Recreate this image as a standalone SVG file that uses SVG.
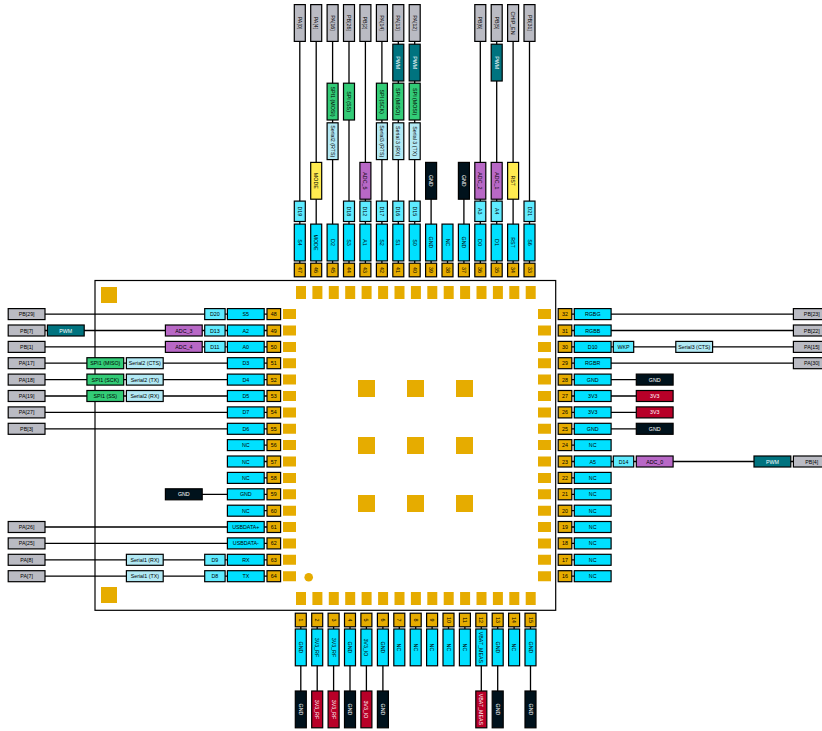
<svg xmlns="http://www.w3.org/2000/svg" width="822" height="731" viewBox="0 0 822 731">
<style>
text{font-family:"Liberation Sans",Arial,sans-serif;font-size:5.3px;text-anchor:middle;dominant-baseline:central;fill:#000}
use{stroke:#000;stroke-width:1.2}
.pin{fill:#E6AC00}.fn{fill:#00E0FF}.d{fill:#5FEBFF}.ser{fill:#B2E9F4}.spi{fill:#33CC77}.pwm{fill:#00737F}.adc{fill:#B868C6}.gnd{fill:#00121C}.pwr{fill:#B80028}.port{fill:#BABBC3}.sys{fill:#FFEB50}
.pwm+text,.gnd+text,.pwr+text{fill:#fff}
#conn path{fill:none;stroke:#000;stroke-width:1.3}
</style>
<defs>
<rect id="W" x="-18.4" y="-5.5" width="36.8" height="11"/>
<rect id="D" x="-10.2" y="-5.5" width="20.4" height="11"/>
<rect id="P" x="-6.8" y="-5.5" width="13.6" height="11"/>
</defs>
<g id="board">
<rect x="95" y="280.5" width="460.7" height="329.8" fill="#fff" stroke="#000" stroke-width="1.2"/>
<path fill="#E6AC00" d="M101 287h16v16h-16zM101 587h16v16h-16zM358 380h17v17h-17zM407 380h17v17h-17zM456 380h17v17h-17zM358 437h17v17h-17zM407 437h17v17h-17zM456 437h17v17h-17zM358 495h17v17h-17zM407 495h17v17h-17zM456 495h17v17h-17z"/>
<path fill="#E6AC00" d="M283 309.1h13v10h-13zM283 325.5h13v10h-13zM283 341.9h13v10h-13zM283 358.2h13v10h-13zM283 374.6h13v10h-13zM283 391h13v10h-13zM283 407.4h13v10h-13zM283 423.8h13v10h-13zM283 440.1h13v10h-13zM283 456.5h13v10h-13zM283 472.9h13v10h-13zM283 489.3h13v10h-13zM283 505.7h13v10h-13zM283 522h13v10h-13zM283 538.4h13v10h-13zM283 554.8h13v10h-13zM283 571.2h13v10h-13z"/>
<path fill="#E6AC00" d="M538 309.1h13v10h-13zM538 325.5h13v10h-13zM538 341.9h13v10h-13zM538 358.2h13v10h-13zM538 374.6h13v10h-13zM538 391h13v10h-13zM538 407.4h13v10h-13zM538 423.8h13v10h-13zM538 440.1h13v10h-13zM538 456.5h13v10h-13zM538 472.9h13v10h-13zM538 489.3h13v10h-13zM538 505.7h13v10h-13zM538 522h13v10h-13zM538 538.4h13v10h-13zM538 554.8h13v10h-13zM538 571.2h13v10h-13z"/>
<path fill="#E6AC00" d="M296 286h10v13h-10zM312.4 286h10v13h-10zM328.8 286h10v13h-10zM345.2 286h10v13h-10zM361.6 286h10v13h-10zM378.1 286h10v13h-10zM394.5 286h10v13h-10zM410.9 286h10v13h-10zM427.3 286h10v13h-10zM443.7 286h10v13h-10zM460.1 286h10v13h-10zM476.5 286h10v13h-10zM492.9 286h10v13h-10zM509.3 286h10v13h-10zM525.7 286h10v13h-10z"/>
<path fill="#E6AC00" d="M296 592h10v13h-10zM312.4 592h10v13h-10zM328.8 592h10v13h-10zM345.2 592h10v13h-10zM361.6 592h10v13h-10zM378.1 592h10v13h-10zM394.5 592h10v13h-10zM410.9 592h10v13h-10zM427.3 592h10v13h-10zM443.7 592h10v13h-10zM460.1 592h10v13h-10zM476.5 592h10v13h-10zM492.9 592h10v13h-10zM509.3 592h10v13h-10zM525.7 592h10v13h-10z"/>
<circle cx="308.7" cy="577.3" r="4.3" fill="#E6AC00"/>
</g>
<g id="conn">
<path d="M45 314.1H267M45 330.5H267M45 346.9H267M45 363.2H267M45 379.6H267M45 396H267M45 412.4H267M45 428.8H267M264 445.1H267M264 461.5H267M264 477.9H267M202 494.3H267M264 510.7H267M45 527H267M45 543.4H267M45 559.8H267M45 576.2H267"/>
<path d="M571 314.1H794M571 330.5H794M571 346.9H794M571 363.2H794M571 379.6H636M571 396H636M571 412.4H636M571 428.8H636M571 445.1H575M571 461.5H794M571 477.9H575M571 494.3H575M571 510.7H575M571 527H575M571 543.4H575M571 559.8H575M571 576.2H575"/>
<path d="M299.8 41V263M316.2 41V263M332.6 41V263M349 41V263M365.4 41V263M381.9 41V263M398.3 41V263M414.7 41V263M431.1 199V263M447.5 261V263M463.9 199V263M480.3 41V263M496.7 41V263M513.1 41V263M529.5 41V263"/>
<path d="M300.8 627V691M317.2 627V691M333.6 627V691M350 627V691M366.4 627V691M382.9 627V691M399.3 627V629M415.7 627V629M432.1 627V629M448.5 627V629M464.9 627V629M481.3 627V691M497.7 627V691M514.1 627V629M530.5 627V691"/>
</g>
<g id="left">
<g id="pin48" transform="translate(273.8 314.1)"><use href="#P" class="pin"/><text>48</text></g>
<g id="pin49" transform="translate(273.8 330.5)"><use href="#P" class="pin"/><text>49</text></g>
<g id="pin50" transform="translate(273.8 346.9)"><use href="#P" class="pin"/><text>50</text></g>
<g id="pin51" transform="translate(273.8 363.2)"><use href="#P" class="pin"/><text>51</text></g>
<g id="pin52" transform="translate(273.8 379.6)"><use href="#P" class="pin"/><text>52</text></g>
<g id="pin53" transform="translate(273.8 396)"><use href="#P" class="pin"/><text>53</text></g>
<g id="pin54" transform="translate(273.8 412.4)"><use href="#P" class="pin"/><text>54</text></g>
<g id="pin55" transform="translate(273.8 428.8)"><use href="#P" class="pin"/><text>55</text></g>
<g id="pin56" transform="translate(273.8 445.1)"><use href="#P" class="pin"/><text>56</text></g>
<g id="pin57" transform="translate(273.8 461.5)"><use href="#P" class="pin"/><text>57</text></g>
<g id="pin58" transform="translate(273.8 477.9)"><use href="#P" class="pin"/><text>58</text></g>
<g id="pin59" transform="translate(273.8 494.3)"><use href="#P" class="pin"/><text>59</text></g>
<g id="pin60" transform="translate(273.8 510.7)"><use href="#P" class="pin"/><text>60</text></g>
<g id="pin61" transform="translate(273.8 527)"><use href="#P" class="pin"/><text>61</text></g>
<g id="pin62" transform="translate(273.8 543.4)"><use href="#P" class="pin"/><text>62</text></g>
<g id="pin63" transform="translate(273.8 559.8)"><use href="#P" class="pin"/><text>63</text></g>
<g id="pin64" transform="translate(273.8 576.2)"><use href="#P" class="pin"/><text>64</text></g>
<g id="fn48" transform="translate(245.8 314.1)"><use href="#W" class="fn"/><text>S5</text></g>
<g id="fn49" transform="translate(245.8 330.5)"><use href="#W" class="fn"/><text>A2</text></g>
<g id="fn50" transform="translate(245.8 346.9)"><use href="#W" class="fn"/><text>A0</text></g>
<g id="fn51" transform="translate(245.8 363.2)"><use href="#W" class="fn"/><text>D3</text></g>
<g id="fn52" transform="translate(245.8 379.6)"><use href="#W" class="fn"/><text>D4</text></g>
<g id="fn53" transform="translate(245.8 396)"><use href="#W" class="fn"/><text>D5</text></g>
<g id="fn54" transform="translate(245.8 412.4)"><use href="#W" class="fn"/><text>D7</text></g>
<g id="fn55" transform="translate(245.8 428.8)"><use href="#W" class="fn"/><text>D6</text></g>
<g id="fn56" transform="translate(245.8 445.1)"><use href="#W" class="fn"/><text>NC</text></g>
<g id="fn57" transform="translate(245.8 461.5)"><use href="#W" class="fn"/><text>NC</text></g>
<g id="fn58" transform="translate(245.8 477.9)"><use href="#W" class="fn"/><text>NC</text></g>
<g id="fn59" transform="translate(245.8 494.3)"><use href="#W" class="fn"/><text>GND</text></g>
<g id="fn60" transform="translate(245.8 510.7)"><use href="#W" class="fn"/><text>NC</text></g>
<g id="fn61" transform="translate(245.8 527)"><use href="#W" class="fn"/><text>USBDATA+</text></g>
<g id="fn62" transform="translate(245.8 543.4)"><use href="#W" class="fn"/><text>USBDATA-</text></g>
<g id="fn63" transform="translate(245.8 559.8)"><use href="#W" class="fn"/><text>RX</text></g>
<g id="fn64" transform="translate(245.8 576.2)"><use href="#W" class="fn"/><text>TX</text></g>
<g id="d48" transform="translate(214.9 314.1)"><use href="#D" class="d"/><text>D20</text></g>
<g id="d49" transform="translate(214.9 330.5)"><use href="#D" class="d"/><text>D13</text></g>
<g id="d50" transform="translate(214.9 346.9)"><use href="#D" class="d"/><text>D11</text></g>
<g id="d63" transform="translate(214.9 559.8)"><use href="#D" class="d"/><text>D9</text></g>
<g id="d64" transform="translate(214.9 576.2)"><use href="#D" class="d"/><text>D8</text></g>
<g id="adc49" transform="translate(183.8 330.5)"><use href="#W" class="adc"/><text>ADC_3</text></g>
<g id="adc50" transform="translate(183.8 346.9)"><use href="#W" class="adc"/><text>ADC_4</text></g>
<g id="gnd59" transform="translate(183.8 494.3)"><use href="#W" class="gnd"/><text>GND</text></g>
<g id="ser51" transform="translate(144.8 363.2)"><use href="#W" class="ser"/><text>Serial2 (CTS)</text></g>
<g id="ser52" transform="translate(144.8 379.6)"><use href="#W" class="ser"/><text>Serial2 (TX)</text></g>
<g id="ser53" transform="translate(144.8 396)"><use href="#W" class="ser"/><text>Serial2 (RX)</text></g>
<g id="ser63" transform="translate(144.8 559.8)"><use href="#W" class="ser"/><text>Serial1 (RX)</text></g>
<g id="ser64" transform="translate(144.8 576.2)"><use href="#W" class="ser"/><text>Serial1 (TX)</text></g>
<g id="spi51" transform="translate(105.3 363.2)"><use href="#W" class="spi"/><text>SPI1 (MISO)</text></g>
<g id="spi52" transform="translate(105.3 379.6)"><use href="#W" class="spi"/><text>SPI1 (SCK)</text></g>
<g id="spi53" transform="translate(105.3 396)"><use href="#W" class="spi"/><text>SPI1 (SS)</text></g>
<g id="pwm49" transform="translate(65.8 330.5)"><use href="#W" class="pwm"/><text>PWM</text></g>
<g id="port48" transform="translate(26.6 314.1)"><use href="#W" class="port"/><text>PB[29]</text></g>
<g id="port49" transform="translate(26.6 330.5)"><use href="#W" class="port"/><text>PB[7]</text></g>
<g id="port50" transform="translate(26.6 346.9)"><use href="#W" class="port"/><text>PB[1]</text></g>
<g id="port51" transform="translate(26.6 363.2)"><use href="#W" class="port"/><text>PA[17]</text></g>
<g id="port52" transform="translate(26.6 379.6)"><use href="#W" class="port"/><text>PA[18]</text></g>
<g id="port53" transform="translate(26.6 396)"><use href="#W" class="port"/><text>PA[19]</text></g>
<g id="port54" transform="translate(26.6 412.4)"><use href="#W" class="port"/><text>PA[27]</text></g>
<g id="port55" transform="translate(26.6 428.8)"><use href="#W" class="port"/><text>PB[3]</text></g>
<g id="port61" transform="translate(26.6 527)"><use href="#W" class="port"/><text>PA[26]</text></g>
<g id="port62" transform="translate(26.6 543.4)"><use href="#W" class="port"/><text>PA[25]</text></g>
<g id="port63" transform="translate(26.6 559.8)"><use href="#W" class="port"/><text>PA[8]</text></g>
<g id="port64" transform="translate(26.6 576.2)"><use href="#W" class="port"/><text>PA[7]</text></g>
</g>
<g id="right">
<g id="pin32" transform="translate(565 314.1)"><use href="#P" class="pin"/><text>32</text></g>
<g id="pin31" transform="translate(565 330.5)"><use href="#P" class="pin"/><text>31</text></g>
<g id="pin30" transform="translate(565 346.9)"><use href="#P" class="pin"/><text>30</text></g>
<g id="pin29" transform="translate(565 363.2)"><use href="#P" class="pin"/><text>29</text></g>
<g id="pin28" transform="translate(565 379.6)"><use href="#P" class="pin"/><text>28</text></g>
<g id="pin27" transform="translate(565 396)"><use href="#P" class="pin"/><text>27</text></g>
<g id="pin26" transform="translate(565 412.4)"><use href="#P" class="pin"/><text>26</text></g>
<g id="pin25" transform="translate(565 428.8)"><use href="#P" class="pin"/><text>25</text></g>
<g id="pin24" transform="translate(565 445.1)"><use href="#P" class="pin"/><text>24</text></g>
<g id="pin23" transform="translate(565 461.5)"><use href="#P" class="pin"/><text>23</text></g>
<g id="pin22" transform="translate(565 477.9)"><use href="#P" class="pin"/><text>22</text></g>
<g id="pin21" transform="translate(565 494.3)"><use href="#P" class="pin"/><text>21</text></g>
<g id="pin20" transform="translate(565 510.7)"><use href="#P" class="pin"/><text>20</text></g>
<g id="pin19" transform="translate(565 527)"><use href="#P" class="pin"/><text>19</text></g>
<g id="pin18" transform="translate(565 543.4)"><use href="#P" class="pin"/><text>18</text></g>
<g id="pin17" transform="translate(565 559.8)"><use href="#P" class="pin"/><text>17</text></g>
<g id="pin16" transform="translate(565 576.2)"><use href="#P" class="pin"/><text>16</text></g>
<g id="fn32" transform="translate(592.7 314.1)"><use href="#W" class="fn"/><text>RGBG</text></g>
<g id="fn31" transform="translate(592.7 330.5)"><use href="#W" class="fn"/><text>RGBB</text></g>
<g id="fn30" transform="translate(592.7 346.9)"><use href="#W" class="fn"/><text>D10</text></g>
<g id="fn29" transform="translate(592.7 363.2)"><use href="#W" class="fn"/><text>RGBR</text></g>
<g id="fn28" transform="translate(592.7 379.6)"><use href="#W" class="fn"/><text>GND</text></g>
<g id="fn27" transform="translate(592.7 396)"><use href="#W" class="fn"/><text>3V3</text></g>
<g id="fn26" transform="translate(592.7 412.4)"><use href="#W" class="fn"/><text>3V3</text></g>
<g id="fn25" transform="translate(592.7 428.8)"><use href="#W" class="fn"/><text>GND</text></g>
<g id="fn24" transform="translate(592.7 445.1)"><use href="#W" class="fn"/><text>NC</text></g>
<g id="fn23" transform="translate(592.7 461.5)"><use href="#W" class="fn"/><text>A5</text></g>
<g id="fn22" transform="translate(592.7 477.9)"><use href="#W" class="fn"/><text>NC</text></g>
<g id="fn21" transform="translate(592.7 494.3)"><use href="#W" class="fn"/><text>NC</text></g>
<g id="fn20" transform="translate(592.7 510.7)"><use href="#W" class="fn"/><text>NC</text></g>
<g id="fn19" transform="translate(592.7 527)"><use href="#W" class="fn"/><text>NC</text></g>
<g id="fn18" transform="translate(592.7 543.4)"><use href="#W" class="fn"/><text>NC</text></g>
<g id="fn17" transform="translate(592.7 559.8)"><use href="#W" class="fn"/><text>NC</text></g>
<g id="fn16" transform="translate(592.7 576.2)"><use href="#W" class="fn"/><text>NC</text></g>
<g id="d30" transform="translate(623.5 346.9)"><use href="#D" class="d"/><text>WKP</text></g>
<g id="d23" transform="translate(623.5 461.5)"><use href="#D" class="d"/><text>D14</text></g>
<g id="gnd28" transform="translate(654.7 379.6)"><use href="#W" class="gnd"/><text>GND</text></g>
<g id="pwr27" transform="translate(654.7 396)"><use href="#W" class="pwr"/><text>3V3</text></g>
<g id="pwr26" transform="translate(654.7 412.4)"><use href="#W" class="pwr"/><text>3V3</text></g>
<g id="gnd25" transform="translate(654.7 428.8)"><use href="#W" class="gnd"/><text>GND</text></g>
<g id="adc23" transform="translate(654.7 461.5)"><use href="#W" class="adc"/><text>ADC_0</text></g>
<g id="ser30" transform="translate(694.2 346.9)"><use href="#W" class="ser"/><text>Serial3 (CTS)</text></g>
<g id="pwm23" transform="translate(772.4 461.5)"><use href="#W" class="pwm"/><text>PWM</text></g>
<g id="port32" transform="translate(811.8 314.1)"><use href="#W" class="port"/><text>PB[23]</text></g>
<g id="port31" transform="translate(811.8 330.5)"><use href="#W" class="port"/><text>PB[22]</text></g>
<g id="port30" transform="translate(811.8 346.9)"><use href="#W" class="port"/><text>PA[15]</text></g>
<g id="port29" transform="translate(811.8 363.2)"><use href="#W" class="port"/><text>PA[30]</text></g>
<g id="port23" transform="translate(811.8 461.5)"><use href="#W" class="port"/><text>PB[4]</text></g>
</g>
<g id="top">
<g id="pin47" transform="translate(299.8 270) rotate(90)"><use href="#P" class="pin"/><text>47</text></g>
<g id="pin46" transform="translate(316.2 270) rotate(90)"><use href="#P" class="pin"/><text>46</text></g>
<g id="pin45" transform="translate(332.6 270) rotate(90)"><use href="#P" class="pin"/><text>45</text></g>
<g id="pin44" transform="translate(349 270) rotate(90)"><use href="#P" class="pin"/><text>44</text></g>
<g id="pin43" transform="translate(365.4 270) rotate(90)"><use href="#P" class="pin"/><text>43</text></g>
<g id="pin42" transform="translate(381.9 270) rotate(90)"><use href="#P" class="pin"/><text>42</text></g>
<g id="pin41" transform="translate(398.3 270) rotate(90)"><use href="#P" class="pin"/><text>41</text></g>
<g id="pin40" transform="translate(414.7 270) rotate(90)"><use href="#P" class="pin"/><text>40</text></g>
<g id="pin39" transform="translate(431.1 270) rotate(90)"><use href="#P" class="pin"/><text>39</text></g>
<g id="pin38" transform="translate(447.5 270) rotate(90)"><use href="#P" class="pin"/><text>38</text></g>
<g id="pin37" transform="translate(463.9 270) rotate(90)"><use href="#P" class="pin"/><text>37</text></g>
<g id="pin36" transform="translate(480.3 270) rotate(90)"><use href="#P" class="pin"/><text>36</text></g>
<g id="pin35" transform="translate(496.7 270) rotate(90)"><use href="#P" class="pin"/><text>35</text></g>
<g id="pin34" transform="translate(513.1 270) rotate(90)"><use href="#P" class="pin"/><text>34</text></g>
<g id="pin33" transform="translate(529.5 270) rotate(90)"><use href="#P" class="pin"/><text>33</text></g>
<g id="fn47" transform="translate(299.8 242.5) rotate(90)"><use href="#W" class="fn"/><text>S4</text></g>
<g id="fn46" transform="translate(316.2 242.5) rotate(90)"><use href="#W" class="fn"/><text>MODE</text></g>
<g id="fn45" transform="translate(332.6 242.5) rotate(90)"><use href="#W" class="fn"/><text>D2</text></g>
<g id="fn44" transform="translate(349 242.5) rotate(90)"><use href="#W" class="fn"/><text>S3</text></g>
<g id="fn43" transform="translate(365.4 242.5) rotate(90)"><use href="#W" class="fn"/><text>A1</text></g>
<g id="fn42" transform="translate(381.9 242.5) rotate(90)"><use href="#W" class="fn"/><text>S2</text></g>
<g id="fn41" transform="translate(398.3 242.5) rotate(90)"><use href="#W" class="fn"/><text>S1</text></g>
<g id="fn40" transform="translate(414.7 242.5) rotate(90)"><use href="#W" class="fn"/><text>S0</text></g>
<g id="fn39" transform="translate(431.1 242.5) rotate(90)"><use href="#W" class="fn"/><text>GND</text></g>
<g id="fn38" transform="translate(447.5 242.5) rotate(90)"><use href="#W" class="fn"/><text>NC</text></g>
<g id="fn37" transform="translate(463.9 242.5) rotate(90)"><use href="#W" class="fn"/><text>GND</text></g>
<g id="fn36" transform="translate(480.3 242.5) rotate(90)"><use href="#W" class="fn"/><text>D0</text></g>
<g id="fn35" transform="translate(496.7 242.5) rotate(90)"><use href="#W" class="fn"/><text>D1</text></g>
<g id="fn34" transform="translate(513.1 242.5) rotate(90)"><use href="#W" class="fn"/><text>RST</text></g>
<g id="fn33" transform="translate(529.5 242.5) rotate(90)"><use href="#W" class="fn"/><text>S6</text></g>
<g id="d47" transform="translate(299.8 211.3) rotate(90)"><use href="#D" class="d"/><text>D19</text></g>
<g id="d44" transform="translate(349 211.3) rotate(90)"><use href="#D" class="d"/><text>D18</text></g>
<g id="d43" transform="translate(365.4 211.3) rotate(90)"><use href="#D" class="d"/><text>D12</text></g>
<g id="d42" transform="translate(381.9 211.3) rotate(90)"><use href="#D" class="d"/><text>D17</text></g>
<g id="d41" transform="translate(398.3 211.3) rotate(90)"><use href="#D" class="d"/><text>D16</text></g>
<g id="d40" transform="translate(414.7 211.3) rotate(90)"><use href="#D" class="d"/><text>D15</text></g>
<g id="d36" transform="translate(480.3 211.3) rotate(90)"><use href="#D" class="d"/><text>A3</text></g>
<g id="d35" transform="translate(496.7 211.3) rotate(90)"><use href="#D" class="d"/><text>A4</text></g>
<g id="d33" transform="translate(529.5 211.3) rotate(90)"><use href="#D" class="d"/><text>D21</text></g>
<g id="sys46" transform="translate(316.2 180.8) rotate(90)"><use href="#W" class="sys"/><text>MODE</text></g>
<g id="adc43" transform="translate(365.4 180.8) rotate(90)"><use href="#W" class="adc"/><text>ADC_5</text></g>
<g id="gnd39" transform="translate(431.1 180.8) rotate(90)"><use href="#W" class="gnd"/><text>GND</text></g>
<g id="gnd37" transform="translate(463.9 180.8) rotate(90)"><use href="#W" class="gnd"/><text>GND</text></g>
<g id="adc36" transform="translate(480.3 180.8) rotate(90)"><use href="#W" class="adc"/><text>ADC_2</text></g>
<g id="adc35" transform="translate(496.7 180.8) rotate(90)"><use href="#W" class="adc"/><text>ADC_1</text></g>
<g id="sys34" transform="translate(513.1 180.8) rotate(90)"><use href="#W" class="sys"/><text>RST</text></g>
<g id="ser45" transform="translate(332.6 141.2) rotate(90)"><use href="#W" class="ser"/><text>Serial2 (RTS)</text></g>
<g id="ser42" transform="translate(381.9 141.2) rotate(90)"><use href="#W" class="ser"/><text>Serial3 (RTS)</text></g>
<g id="ser41" transform="translate(398.3 141.2) rotate(90)"><use href="#W" class="ser"/><text>Serial 3 (RX)</text></g>
<g id="ser40" transform="translate(414.7 141.2) rotate(90)"><use href="#W" class="ser"/><text>Serial 3 (TX)</text></g>
<g id="spi45" transform="translate(332.6 101.6) rotate(90)"><use href="#W" class="spi"/><text>SPI1 (MOSI)</text></g>
<g id="spi44" transform="translate(349 101.6) rotate(90)"><use href="#W" class="spi"/><text>SPI (SS)</text></g>
<g id="spi42" transform="translate(381.9 101.6) rotate(90)"><use href="#W" class="spi"/><text>SPI (SCK)</text></g>
<g id="spi41" transform="translate(398.3 101.6) rotate(90)"><use href="#W" class="spi"/><text>SPI (MISO)</text></g>
<g id="spi40" transform="translate(414.7 101.6) rotate(90)"><use href="#W" class="spi"/><text>SPI (MOSI)</text></g>
<g id="pwm41" transform="translate(398.3 62.6) rotate(90)"><use href="#W" class="pwm"/><text>PWM</text></g>
<g id="pwm40" transform="translate(414.7 62.6) rotate(90)"><use href="#W" class="pwm"/><text>PWM</text></g>
<g id="pwm35" transform="translate(496.7 62.6) rotate(90)"><use href="#W" class="pwm"/><text>PWM</text></g>
<g id="port47" transform="translate(299.8 23) rotate(90)"><use href="#W" class="port"/><text>PA[0]</text></g>
<g id="port46" transform="translate(316.2 23) rotate(90)"><use href="#W" class="port"/><text>PA[4]</text></g>
<g id="port45" transform="translate(332.6 23) rotate(90)"><use href="#W" class="port"/><text>PA[16]</text></g>
<g id="port44" transform="translate(349 23) rotate(90)"><use href="#W" class="port"/><text>PB[26]</text></g>
<g id="port43" transform="translate(365.4 23) rotate(90)"><use href="#W" class="port"/><text>PB[2]</text></g>
<g id="port42" transform="translate(381.9 23) rotate(90)"><use href="#W" class="port"/><text>PA[14]</text></g>
<g id="port41" transform="translate(398.3 23) rotate(90)"><use href="#W" class="port"/><text>PA[13]</text></g>
<g id="port40" transform="translate(414.7 23) rotate(90)"><use href="#W" class="port"/><text>PA[12]</text></g>
<g id="port36" transform="translate(480.3 23) rotate(90)"><use href="#W" class="port"/><text>PB[6]</text></g>
<g id="port35" transform="translate(496.7 23) rotate(90)"><use href="#W" class="port"/><text>PB[5]</text></g>
<g id="port34" transform="translate(513.1 23) rotate(90)"><use href="#W" class="port"/><text>CHIP_EN</text></g>
<g id="port33" transform="translate(529.5 23) rotate(90)"><use href="#W" class="port"/><text>PB[31]</text></g>
</g>
<g id="bottom">
<g id="pin1" transform="translate(300.8 620) rotate(90)"><use href="#P" class="pin"/><text>1</text></g>
<g id="pin2" transform="translate(317.2 620) rotate(90)"><use href="#P" class="pin"/><text>2</text></g>
<g id="pin3" transform="translate(333.6 620) rotate(90)"><use href="#P" class="pin"/><text>3</text></g>
<g id="pin4" transform="translate(350 620) rotate(90)"><use href="#P" class="pin"/><text>4</text></g>
<g id="pin5" transform="translate(366.4 620) rotate(90)"><use href="#P" class="pin"/><text>5</text></g>
<g id="pin6" transform="translate(382.9 620) rotate(90)"><use href="#P" class="pin"/><text>6</text></g>
<g id="pin7" transform="translate(399.3 620) rotate(90)"><use href="#P" class="pin"/><text>7</text></g>
<g id="pin8" transform="translate(415.7 620) rotate(90)"><use href="#P" class="pin"/><text>8</text></g>
<g id="pin9" transform="translate(432.1 620) rotate(90)"><use href="#P" class="pin"/><text>9</text></g>
<g id="pin10" transform="translate(448.5 620) rotate(90)"><use href="#P" class="pin"/><text>10</text></g>
<g id="pin11" transform="translate(464.9 620) rotate(90)"><use href="#P" class="pin"/><text>11</text></g>
<g id="pin12" transform="translate(481.3 620) rotate(90)"><use href="#P" class="pin"/><text>12</text></g>
<g id="pin13" transform="translate(497.7 620) rotate(90)"><use href="#P" class="pin"/><text>13</text></g>
<g id="pin14" transform="translate(514.1 620) rotate(90)"><use href="#P" class="pin"/><text>14</text></g>
<g id="pin15" transform="translate(530.5 620) rotate(90)"><use href="#P" class="pin"/><text>15</text></g>
<g id="fn1" transform="translate(300.8 647.4) rotate(90)"><use href="#W" class="fn"/><text>GND</text></g>
<g id="fn2" transform="translate(317.2 647.4) rotate(90)"><use href="#W" class="fn"/><text>3V3_RF</text></g>
<g id="fn3" transform="translate(333.6 647.4) rotate(90)"><use href="#W" class="fn"/><text>3V3_RF</text></g>
<g id="fn4" transform="translate(350 647.4) rotate(90)"><use href="#W" class="fn"/><text>GND</text></g>
<g id="fn5" transform="translate(366.4 647.4) rotate(90)"><use href="#W" class="fn"/><text>3V3_IO</text></g>
<g id="fn6" transform="translate(382.9 647.4) rotate(90)"><use href="#W" class="fn"/><text>GND</text></g>
<g id="fn7" transform="translate(399.3 647.4) rotate(90)"><use href="#W" class="fn"/><text>NC</text></g>
<g id="fn8" transform="translate(415.7 647.4) rotate(90)"><use href="#W" class="fn"/><text>NC</text></g>
<g id="fn9" transform="translate(432.1 647.4) rotate(90)"><use href="#W" class="fn"/><text>NC</text></g>
<g id="fn10" transform="translate(448.5 647.4) rotate(90)"><use href="#W" class="fn"/><text>NC</text></g>
<g id="fn11" transform="translate(464.9 647.4) rotate(90)"><use href="#W" class="fn"/><text>NC</text></g>
<g id="fn12" transform="translate(481.3 647.4) rotate(90)"><use href="#W" class="fn"/><text>VBAT_MEAS</text></g>
<g id="fn13" transform="translate(497.7 647.4) rotate(90)"><use href="#W" class="fn"/><text>GND</text></g>
<g id="fn14" transform="translate(514.1 647.4) rotate(90)"><use href="#W" class="fn"/><text>NC</text></g>
<g id="fn15" transform="translate(530.5 647.4) rotate(90)"><use href="#W" class="fn"/><text>GND</text></g>
<g id="gnd1" transform="translate(300.8 709.4) rotate(90)"><use href="#W" class="gnd"/><text>GND</text></g>
<g id="pwr2" transform="translate(317.2 709.4) rotate(90)"><use href="#W" class="pwr"/><text>3V3_RF</text></g>
<g id="pwr3" transform="translate(333.6 709.4) rotate(90)"><use href="#W" class="pwr"/><text>3V3_RF</text></g>
<g id="gnd4" transform="translate(350 709.4) rotate(90)"><use href="#W" class="gnd"/><text>GND</text></g>
<g id="pwr5" transform="translate(366.4 709.4) rotate(90)"><use href="#W" class="pwr"/><text>3V3_IO</text></g>
<g id="gnd6" transform="translate(382.9 709.4) rotate(90)"><use href="#W" class="gnd"/><text>GND</text></g>
<g id="pwr12" transform="translate(481.3 709.4) rotate(90)"><use href="#W" class="pwr"/><text>VBAT_MEAS</text></g>
<g id="gnd13" transform="translate(497.7 709.4) rotate(90)"><use href="#W" class="gnd"/><text>GND</text></g>
<g id="gnd15" transform="translate(530.5 709.4) rotate(90)"><use href="#W" class="gnd"/><text>GND</text></g>
</g>
</svg>
